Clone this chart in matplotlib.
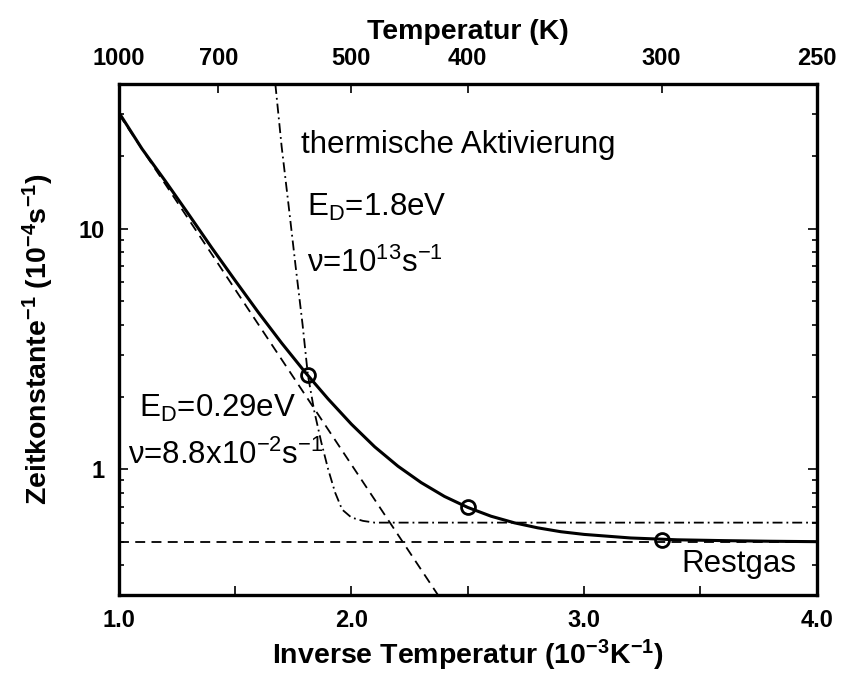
import matplotlib
matplotlib.use("Agg")
import matplotlib.pyplot as plt
from matplotlib.ticker import LogLocator, NullFormatter, FixedLocator

plt.rcParams['font.family'] = ['Liberation Sans', 'DejaVu Sans']
plt.rcParams['mathtext.fontset'] = 'custom'
plt.rcParams['mathtext.rm'] = 'Liberation Sans'
plt.rcParams['mathtext.it'] = 'Liberation Sans:italic'
plt.rcParams['mathtext.bf'] = 'Liberation Sans:bold'

# inverse temperature (10^-3 K^-1) vs rate (10^-4 s^-1)
x_total = [1.0, 1.1, 1.2, 1.3, 1.4, 1.5, 1.6, 1.7, 1.8, 1.9, 2.0, 2.1, 2.2, 2.3,
           2.4, 2.5, 2.6, 2.7, 2.8, 2.9, 3.0, 3.2, 3.4, 3.6, 3.8, 4.0]
y_total = [30.5, 21.5, 15.8, 11.5, 8.33, 6.1, 4.49, 3.35, 2.54, 1.96, 1.54, 1.24,
           1.03, 0.88, 0.771, 0.694, 0.638, 0.599, 0.571, 0.550, 0.536, 0.518,
           0.509, 0.505, 0.502, 0.500]

# E_D = 0.29 eV branch (straight line in this plot)
x_low = [1.0, 2.372]
y_low = [30.0, 0.3]

# thermal activation, E_D = 1.8 eV
x_therm = [1.673, 1.70, 1.73, 1.76, 1.79, 1.813, 1.84, 1.87, 1.90, 1.93, 1.96,
           2.00, 2.05, 2.10, 4.0]
y_therm = [40.0, 22.0, 12.5, 7.0, 4.0, 2.46, 1.75, 1.3, 1.0, 0.80, 0.68,
           0.63, 0.61, 0.60, 0.60]

# residual gas level
x_rest = [1.0, 4.0]
y_rest = [0.5, 0.5]

# measured points
x_meas = [1.813, 2.5, 3.333]
y_meas = [2.46, 0.694, 0.507]

top_temps = [1000, 700, 500, 400, 300, 250]

fig = plt.figure(figsize=(8.67, 6.75), dpi=100)
ax = fig.add_axes([0.137, 0.1185, 0.805, 0.757])

dashed = (0, (5.5, 3.5))
dashdot = (0, (5.5, 2.2, 1, 2.2))
ax.plot(x_rest, y_rest, color='black', lw=1.3, linestyle=dashed)
ax.plot(x_low, y_low, color='black', lw=1.3, linestyle=dashed)
ax.plot(x_therm, y_therm, color='black', lw=1.3, linestyle=dashdot)
ax.plot(x_total, y_total, color='black', lw=2.2)
ax.plot(x_meas, y_meas, 'o', mfc='none', mec='black', mew=2.0, ms=10)

ax.set_yscale('log')
ax.set_xlim(1.0, 4.0)
ax.set_ylim(0.3, 40)

ax.set_xticks([1.0, 2.0, 3.0, 4.0], ['1.0', '2.0', '3.0', '4.0'])
ax.xaxis.set_minor_locator(FixedLocator([1.5, 2.5, 3.5]))
ax.set_yticks([1, 10], ['1', '10'])
ax.yaxis.set_minor_locator(LogLocator(base=10, subs=range(2, 10)))
ax.yaxis.set_minor_formatter(NullFormatter())

ax.tick_params(which='both', direction='in', right=True, width=1.2,
               labelsize=17, pad=10)
ax.tick_params(which='major', length=6.5)
ax.tick_params(which='minor', length=3.5)
ax.tick_params(axis='x', which='minor', length=6.5)
for lab in ax.get_xticklabels() + ax.get_yticklabels():
    lab.set_fontweight('bold')
for sp in ax.spines.values():
    sp.set_linewidth(2.4)

ax.set_xlabel('Inverse Temperatur (10$^{\\mathbf{-3}}$K$^{\\mathbf{-1}}$)',
              fontsize=20.5, fontweight='bold', labelpad=4)
ax.set_ylabel('Zeitkonstante$^{\\mathbf{-1}}$ (10$^{\\mathbf{-4}}$s$^{\\mathbf{-1}}$)',
              fontsize=20.5, fontweight='bold', labelpad=16)

top = ax.secondary_xaxis('top', functions=(lambda v: 1000.0 / v, lambda t: 1000.0 / t))
top.set_xticks(top_temps, [str(t) for t in top_temps])
top.tick_params(direction='in', length=6.5, width=1.2, labelsize=17, pad=10)
for lab in top.get_xticklabels():
    lab.set_fontweight('bold')
top.set_xlabel('Temperatur (K)', fontsize=20.5, fontweight='bold', labelpad=6)

ax.text(1.783, 20.6, 'thermische Aktivierung', fontsize=22.5)
ax.text(1.81, 11.3, 'E$_{\\mathrm{D}}$=1.8eV', fontsize=22.5)
ax.text(1.81, 6.6, 'ν=10$^{13}$s$^{-1}$', fontsize=22.5)
ax.text(1.086, 1.65, 'E$_{\\mathrm{D}}$=0.29eV', fontsize=22.5)
ax.text(1.04, 1.05, 'ν=8.8x10$^{-2}$s$^{-1}$', fontsize=22.5)
ax.text(3.42, 0.375, 'Restgas', fontsize=22.5)

fig.savefig('out.png', dpi=100)
